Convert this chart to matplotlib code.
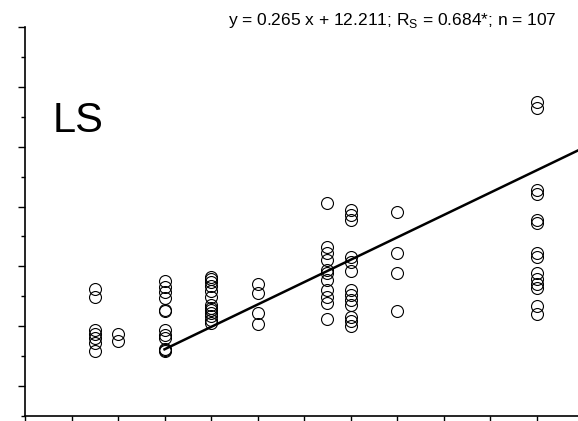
import numpy as np
import matplotlib.pyplot as plt

plt.rcParams['font.family'] = ['Liberation Sans', 'DejaVu Sans']
plt.rcParams['mathtext.fontset'] = 'custom'
plt.rcParams['mathtext.rm'] = 'Liberation Sans'

# ---- data ----
x_vals = [15, 20, 30, 40, 50, 65, 70, 80, 110]
y_groups = [
    [27.3, 26.4, 22.4, 22.0, 21.5, 20.9, 20.0],
    [22.0, 21.1],
    [28.3, 27.5, 27.0, 26.2, 24.8, 24.7, 22.4, 21.9, 21.5, 20.2, 20.1, 20.0],
    [28.7, 28.5, 28.1, 27.7, 27.1, 26.4, 25.4, 25.1, 24.8, 24.5, 24.1, 23.6, 23.3],
    [27.9, 26.8, 24.5, 23.2],
    [37.5, 32.3, 31.6, 30.7, 29.6, 29.2, 28.4, 27.2, 26.4, 25.7, 23.8],
    [36.7, 36.1, 35.5, 31.1, 30.5, 29.4, 27.2, 26.6, 26.0, 25.4, 24.0, 23.5, 22.9],
    [36.4, 31.6, 29.2, 24.7],
    [49.5, 48.8, 39.0, 38.6, 35.5, 35.1, 31.6, 31.1, 29.2, 28.5, 27.9, 27.4, 25.3, 24.3],
]
slope = 0.265
intercept = 12.211
fit_range = [30, 125]
title = 'y = 0.265 x + 12.211; R$_\\mathrm{S}$ = 0.684*; n = 107'
panel = 'LS'

xs = np.concatenate([[x] * len(g) for x, g in zip(x_vals, y_groups)])
ys = np.concatenate(y_groups)

fig = plt.figure(figsize=(5.78, 4.21), dpi=100)
ax = fig.add_axes([25 / 578, 5 / 421, 553 / 578, 389 / 421])

ax.plot(xs, ys, 'o', mfc='none', mec='black', ms=8.6, mew=0.8, zorder=3)
fx = np.array(fit_range, dtype=float)
ax.plot(fx, slope * fx + intercept, color='black', lw=1.8, zorder=4)

xmax = 553 / 4.65
ymin, ymax = 12.26, 58.35
ax.set_xlim(0, xmax)
ax.set_ylim(ymin, ymax)

step = (ymax - ymin) / 6.5
ax.set_yticks(ymax - step * np.arange(7))
ax.set_yticks(ymax - step * (np.arange(7) + 0.5), minor=True)
ax.set_xticks(np.arange(0, xmax, 10))
ax.tick_params(axis='y', which='major', direction='out', length=5, width=1, labelleft=False)
ax.tick_params(axis='y', which='minor', direction='out', length=3, width=1)
ax.tick_params(axis='x', which='major', direction='out', length=3.5, width=1, labelbottom=False)

for s in ['top', 'right']:
    ax.spines[s].set_visible(False)
for s in ['left', 'bottom']:
    ax.spines[s].set_linewidth(1.2)

fig.text(392 / 578, 1 - 20 / 421, title, ha='center', va='center', fontsize=12.5)
fig.text(53 / 578, 1 - 121 / 421, panel, ha='left', va='center', fontsize=30)

fig.savefig('out.png', dpi=100)
